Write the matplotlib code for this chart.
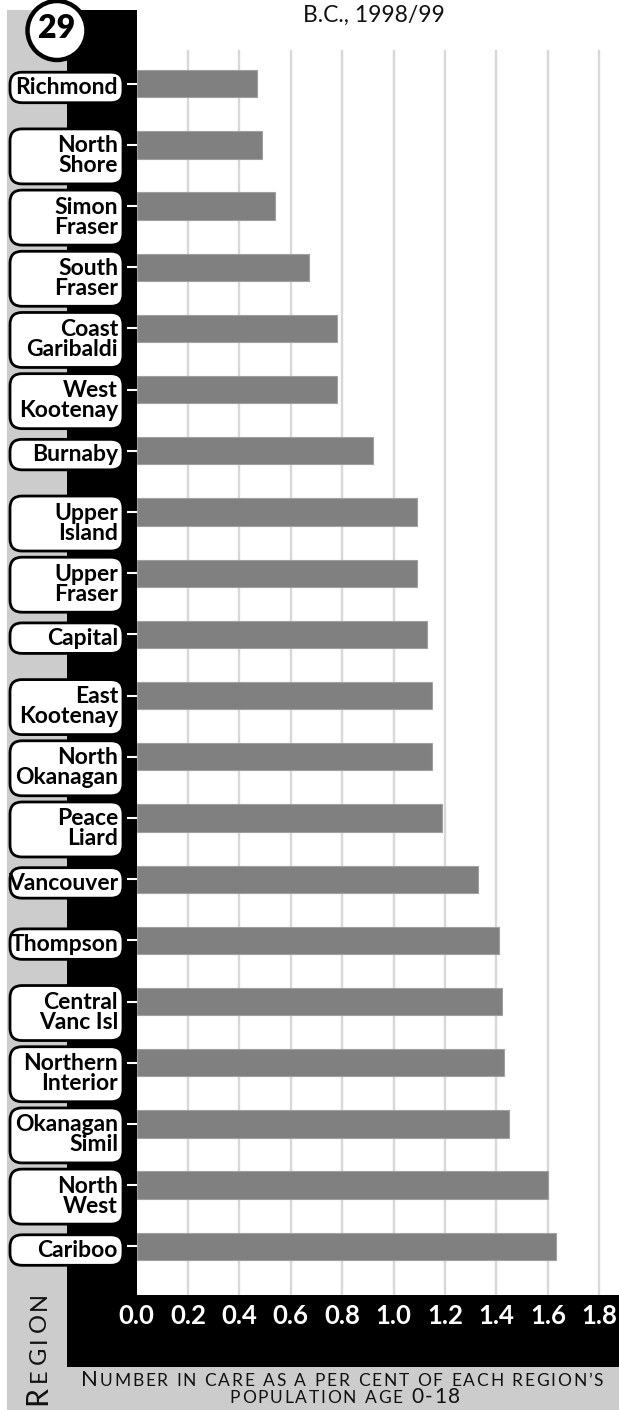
import matplotlib
matplotlib.use("Agg")
import matplotlib.pyplot as plt
from matplotlib.patches import Rectangle, FancyBboxPatch, Circle
from matplotlib.transforms import IdentityTransform

# picture size in pixels (saved at dpi 100)
W, H = 619, 1410

regions = ["Richmond", "North\nShore", "Simon\nFraser", "South\nFraser",
           "Coast\nGaribaldi", "West\nKootenay", "Burnaby", "Upper\nIsland",
           "Upper\nFraser", "Capital", "East\nKootenay", "North\nOkanagan",
           "Peace\nLiard", "Vancouver", "Thompson", "Central\nVanc Isl",
           "Northern\nInterior", "Okanagan\nSimil", "North\nWest", "Cariboo"]
in_care_pct = [0.47, 0.49, 0.54, 0.67, 0.78, 0.78, 0.92, 1.09, 1.09, 1.13,
               1.15, 1.15, 1.19, 1.33, 1.41, 1.42, 1.43, 1.45, 1.60, 1.63]
x_ticks = [0.0, 0.2, 0.4, 0.6, 0.8, 1.0, 1.2, 1.4, 1.6, 1.8]
x_tick_labels = ["0.0", "0.2", "0.4", "0.6", "0.8", "1.0", "1.2", "1.4", "1.6", "1.8"]
chart_number = "29"
title = "B.C., 1998/99"
xlabel_line1 = [("N", 16), ("UMBER IN CARE AS A PER CENT OF EACH REGION\u2019S", 12.5)]
xlabel_line2 = [("POPULATION AGE ", 12.5), ("0-18", 15)]
ylabel = [("R", 22), ("EGION", 17)]

FONT = "Lato"
GREY = "#cccccc"
ID = IdentityTransform()

fig = plt.figure(figsize=(W / 100, H / 100), dpi=100)
fig.patch.set_facecolor("white")

# background panels (display pixels, y measured from the bottom)
fig.add_artist(Rectangle((7, 0), 60, H - 10, transform=ID, fc=GREY, ec="none", zorder=-3))
fig.add_artist(Rectangle((67, 0), W - 67, 43, transform=ID, fc=GREY, ec="none", zorder=-3))
fig.add_artist(Rectangle((67, H - 1295), 69.5, 1285, transform=ID, fc="black", ec="none", zorder=-2))
fig.add_artist(Rectangle((67, H - 1367), W - 67, 72.5, transform=ID, fc="black", ec="none", zorder=-2))

ax = fig.add_axes([136.5 / W, (H - 1295) / H, (W - 136.5) / W, 1245 / H])
n = len(regions)
pos = list(range(n))
ax.barh(pos, in_care_pct, height=0.446, color="#808080", edgecolor="#a0a0a0",
        linewidth=0.8, zorder=3)
ax.set_xlim(0, (W - 136.5) / 257.1)
ax.set_ylim(19.796, -0.551)
for xv in x_ticks[1:]:
    ax.axvline(xv, color="#d8d8d8", lw=1.7, zorder=1)
for s in ax.spines.values():
    s.set_visible(False)

ax.set_xticks(x_ticks)
ax.set_xticklabels(x_tick_labels, fontfamily=FONT, fontweight="bold")
ax.tick_params(axis="x", length=0, pad=6.5, labelcolor="white", labelsize=18.5)
ax.set_yticks(pos)
ax.set_yticklabels([])
ax.tick_params(axis="y", length=7.5, width=1.5, color="white", direction="out")

# rounded label boxes beside each bar
for i, name in enumerate(regions):
    c = H - ax.transData.transform((0, i))[1]   # bar centre, pixels from top
    lines = name.split("\n")
    if len(lines) == 2:
        top, bot = c - 16, c + 39
        bases = [c + 7.5, c + 27.5]
    else:
        top, bot = c - 11.5, c + 19
        bases = [c + 10.5]
    fig.add_artist(FancyBboxPatch((10, H - bot), 113, bot - top,
                                  boxstyle="round,pad=0,rounding_size=12",
                                  transform=ID, fc="white", ec="black", lw=2, zorder=5))
    for line, b in zip(lines, bases):
        fig.text(118, H - b, line, transform=ID, ha="right", va="baseline",
                 fontsize=16.5, fontfamily=FONT, fontweight="bold", color="black", zorder=6)

# chart number badge
fig.add_artist(Circle((57, H - 30.5), 29.5, transform=ID, fc="white", ec="black",
                      lw=3.2, zorder=7))
fig.text(57, H - 38.5, chart_number, transform=ID, ha="center", va="baseline",
         fontsize=23, fontfamily=FONT, fontweight="heavy", zorder=8)

fig.text(374, H - 22, title, transform=ID, ha="center", va="baseline",
         fontsize=16.5, fontfamily=FONT, color="#111111")

# small-caps style labels, laid out letter by letter with tracking
renderer = fig.canvas.get_renderer()


def measure(parts):
    out = []
    for s, size in parts:
        for ch in s:
            if ch == " ":
                out.append((ch, size, 0.28 * size * 100 / 72))
            else:
                t = fig.text(0, 0, ch, fontsize=size, fontfamily=FONT, transform=ID)
                w = t.get_window_extent(renderer).width
                t.remove()
                out.append((ch, size, w))
    return out


def tracked(cx, base, parts, track, vertical=False, start=None):
    items = measure(parts)
    total = sum(w for _, _, w in items) + track * (len(items) - 1)
    p = start if start is not None else cx - total / 2
    for ch, size, w in items:
        if ch != " ":
            if vertical:
                fig.text(base, p, ch, transform=ID, rotation=90, rotation_mode="anchor",
                         ha="left", va="baseline", fontsize=size, fontfamily=FONT,
                         color="#111111")
            else:
                fig.text(p, base, ch, transform=ID, ha="left", va="baseline",
                         fontsize=size, fontfamily=FONT, color="#111111")
        p += w + track


tracked(342, H - 1386.5, xlabel_line1, 1.8)
tracked(345, H - 1403, xlabel_line2, 1.8)
tracked(0, 46, ylabel, 4, vertical=True, start=H - 1405)

fig.savefig("out.png", dpi=100)
